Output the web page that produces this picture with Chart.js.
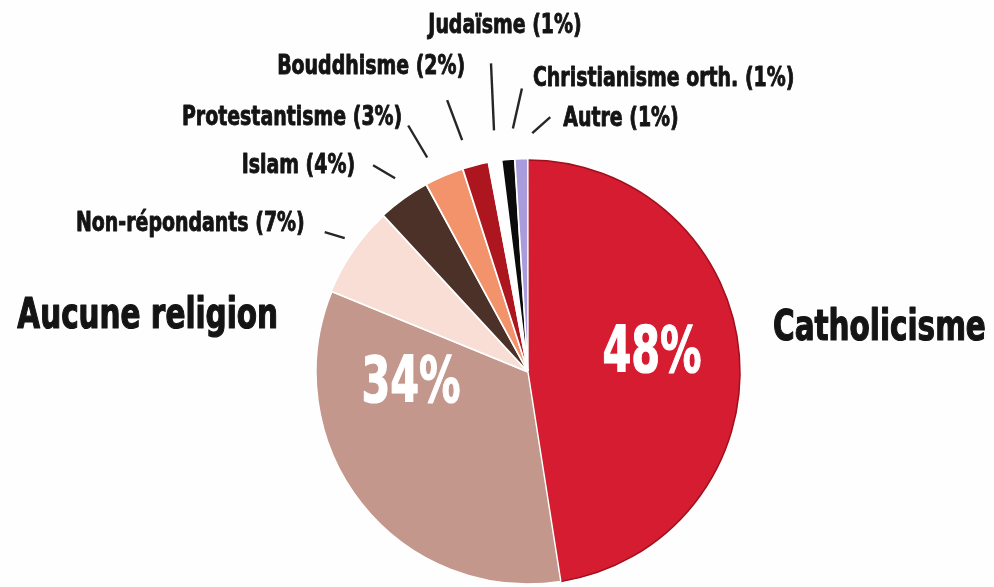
<!DOCTYPE html>
<html lang="fr">
<head>
<meta charset="utf-8">
<title>Religions</title>
<script src="https://cdn.jsdelivr.net/npm/chart.js@4.4.1/dist/chart.umd.min.js"></script>
<style>
  html, body { margin: 0; padding: 0; background: #fefefe; }
  #wrap { width: 994px; height: 587px; position: relative; }
</style>
</head>
<body>
<div id="wrap"><canvas id="religionChart"></canvas></div>
<script>
// données
const categories = ['Catholicisme', 'Aucune religion', 'Non-répondants', 'Islam', 'Protestantisme', 'Bouddhisme', 'Judaïsme', 'Christianisme orth.', 'Autre'];
const shares = [48, 34, 7, 4, 3, 2, 1, 1, 1];
const sliceColors = ['#d61c30', '#c3978b', '#f9ded5', '#4b3127', '#f2936b', '#ad151f', '#ffffff', '#0b0b0b', '#a89cdc'];
const sliceBorders = ['#a0101c', '#ffffff', '#ffffff', '#ffffff', '#ffffff', '#ffffff', '#ffffff', '#ffffff', '#ffffff'];

const FONT = '"DejaVu Sans Condensed", "Liberation Sans Narrow", sans-serif';
const INK = '#141414';
const NARROW = 0.78;   // la police d'origine est très condensée

// petites étiquettes avec trait : écart au bord, rotation (degrés), vecteur du trait, décalage du texte
const callouts = {
    2: { gap: 15, nudge: 1.4, line: [-20, -6], text: [-20, -8], align: 'right' },
    3: { gap: 23, nudge: 1.2, line: [-22, -13], text: [-18, 1], align: 'right' },
    4: { gap: 25, nudge: -2, line: [-19, -32], text: [-6, -8], align: 'right' },
    5: { gap: 29, nudge: -1.6, line: [-15, -40], text: [18, -33], align: 'right' },
    6: { gap: 32, nudge: 0.9, line: [-3, -67], text: [14, -37], align: 'center' },
    7: { gap: 32, nudge: 1.8, line: [9, -40], text: [11, -9], align: 'left' },
    8: { gap: 27, nudge: 2.8, line: [18, -16], text: [13, 2], align: 'left' }
};

// grandes étiquettes : nom à l'extérieur, pourcentage dans la part (décalages depuis le centre)
const bigLabels = {
    0: { name: [245, -43], align: 'left', pct: [124, -17] },
    1: { name: [-250, -55], align: 'right', pct: [-117, 13] }
};

// texte condensé, un peu épaissi par un contour de la même couleur
function squeezedText(c, text, x, y, align, sx, weight) {
    c.save();
    c.translate(x, y);
    c.scale(sx, 1);
    c.textAlign = align;
    c.lineJoin = 'round';
    c.lineWidth = weight;
    c.strokeStyle = c.fillStyle;
    c.strokeText(text, 0, 0);
    c.fillText(text, 0, 0);
    c.restore();
}

const labelPlugin = {
    id: 'religionLabels',
    afterDatasetsDraw(chart) {
        const c = chart.ctx;
        const arcs = chart.getDatasetMeta(0).data;
        c.save();
        c.textBaseline = 'middle';

        arcs.forEach((arc, i) => {
            const cx = arc.x, cy = arc.y, r = arc.outerRadius;
            const co = callouts[i];
            if (co) {
                const mid = (arc.startAngle + arc.endAngle) / 2 + co.nudge * Math.PI / 180;
                const x1 = cx + Math.cos(mid) * (r + co.gap);
                const y1 = cy + Math.sin(mid) * (r + co.gap);
                const x2 = x1 + co.line[0];
                const y2 = y1 + co.line[1];
                c.strokeStyle = '#262626';
                c.lineWidth = 2.4;
                c.beginPath();
                c.moveTo(x1, y1);
                c.lineTo(x2, y2);
                c.stroke();

                c.fillStyle = INK;
                c.font = 'bold 27px ' + FONT;
                squeezedText(c, categories[i] + ' (' + shares[i] + '%)', x2 + co.text[0], y2 + co.text[1], co.align, NARROW, 0.9);
            }
            const big = bigLabels[i];
            if (big) {
                c.fillStyle = INK;
                c.font = 'bold 42px ' + FONT;
                squeezedText(c, categories[i], cx + big.name[0], cy + big.name[1], big.align, NARROW, 1.2);

                c.fillStyle = '#ffffff';
                c.font = 'bold 64px ' + FONT;
                squeezedText(c, shares[i] + '%', cx + big.pct[0], cy + big.pct[1], 'center', 0.72, 1.2);
            }
        });
        c.restore();
    }
};

new Chart(document.getElementById('religionChart'), {
    type: 'pie',
    data: {
        labels: categories,
        datasets: [{
            data: shares,
            backgroundColor: sliceColors,
            borderColor: sliceBorders,
            borderWidth: 1.5,
            offset: [0, 0, 2, 3, 3, 3, 3, 3, 3]
        }]
    },
    options: {
        responsive: true,
        maintainAspectRatio: false,
        animation: false,
        radius: 212,
        layout: { padding: { left: 316, top: 160, right: 254, bottom: 3 } },
        plugins: {
            legend: { display: false },
            tooltip: { enabled: false }
        }
    },
    plugins: [labelPlugin]
});
</script>
</body>
</html>
